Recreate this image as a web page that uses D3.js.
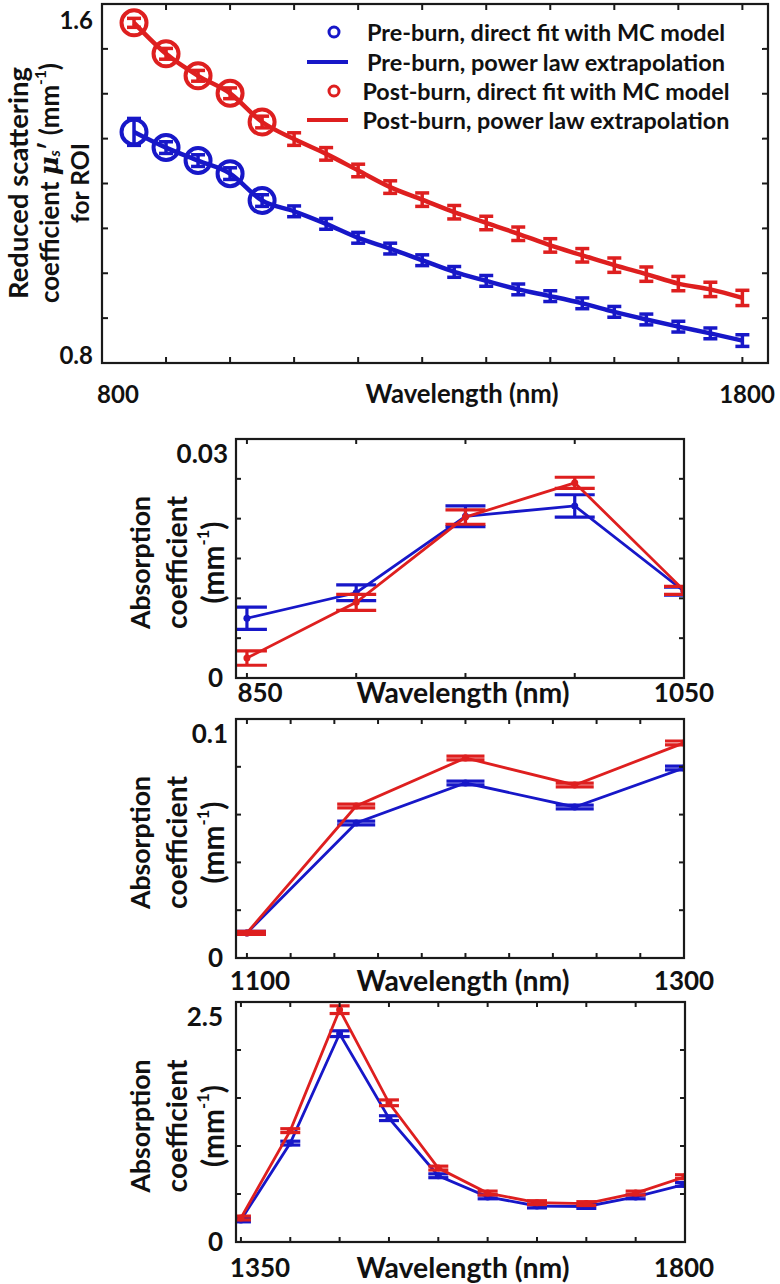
<!DOCTYPE html>
<html><head><meta charset="utf-8">
<script src="https://cdn.jsdelivr.net/npm/d3@7"></script>
<style>
html,body{margin:0;padding:0;background:#fff;}
text{font-family:Lato,"Open Sans",sans-serif;font-weight:bold;fill:#111;}
</style></head>
<body>
<svg id="chart" width="780" height="1284"></svg>
<script>
// ---------- DATA ----------
const scatterWavelengths = [850,900,950,1000,1050,1100,1150,1200,1250,1300,1350,1400,1450,1500,1550,1600,1650,1700,1750,1800];
const preScatter  = [1.315,1.280,1.251,1.222,1.162,1.138,1.110,1.079,1.055,1.029,1.003,0.983,0.964,0.949,0.933,0.914,0.897,0.881,0.866,0.850];
const preScatterErr = [0.030,0.013,0.013,0.013,0.013,0.012,0.012,0.012,0.012,0.012,0.012,0.012,0.012,0.012,0.012,0.012,0.012,0.012,0.012,0.013];
const postScatter = [1.558,1.489,1.440,1.401,1.337,1.299,1.266,1.229,1.192,1.164,1.136,1.112,1.088,1.062,1.040,1.018,0.998,0.977,0.964,0.945];
const postScatterErr = [0.010,0.012,0.012,0.012,0.013,0.014,0.014,0.014,0.014,0.015,0.015,0.015,0.015,0.015,0.015,0.016,0.016,0.016,0.016,0.017];
const mcFitCount = 5; // first five wavelengths were direct MC fits (circled)

const abs1Wavelengths = [850,900,950,1000,1050];
const abs1Pre  = [0.0075,0.0107,0.0203,0.0216,0.0109];
const abs1PreErr  = [0.0014,0.0010,0.0013,0.0014,0.0005];
const abs1Post = [0.0025,0.0095,0.0202,0.0245,0.0110];
const abs1PostErr = [0.0009,0.0010,0.0009,0.0007,0.0005];

const abs2Wavelengths = [1100,1150,1200,1250,1300];
const abs2Pre  = [0.0105,0.0565,0.0732,0.0632,0.0795];
const abs2PreErr  = [0.0006,0.0008,0.0008,0.0008,0.0008];
const abs2Post = [0.0105,0.0636,0.0837,0.0724,0.0900];
const abs2PostErr = [0.0006,0.0008,0.0008,0.0008,0.0008];

const abs3Wavelengths = [1350,1400,1450,1500,1550,1600,1650,1700,1750,1800];
const abs3Pre  = [0.23,1.03,2.17,1.29,0.69,0.47,0.375,0.37,0.47,0.60];
const abs3PreErr  = [0.02,0.02,0.03,0.025,0.02,0.02,0.02,0.02,0.02,0.02];
const abs3Post = [0.25,1.16,2.42,1.45,0.77,0.51,0.41,0.40,0.51,0.68];
const abs3PostErr = [0.02,0.02,0.04,0.03,0.02,0.02,0.02,0.02,0.02,0.02];

const legendLabels = ["Pre-burn, direct fit with MC model","Pre-burn, power law extrapolation","Post-burn, direct fit with MC model","Post-burn, power law extrapolation"];
const xTitle = "Wavelength (nm)";
const topXTickLabels = ["800","1800"];
const topYTickLabels = ["1.6","0.8"];
const abs1XTickLabels = ["850","1050"], abs1YTickLabels = ["0.03","0"];
const abs2XTickLabels = ["1100","1300"], abs2YTickLabels = ["0.1","0"];
const abs3XTickLabels = ["1350","1800"], abs3YTickLabels = ["2.5","0"];

// ---------- STYLE ----------
const BLUE = "#1717c8", RED = "#de1f1f", AXIS = "#1a1a1a";
const svg = d3.select("#chart");

function fitText(sel, target){
  const node = sel.node();
  let fs = parseFloat(sel.attr("font-size"));
  const w = node.getComputedTextLength();
  if (w > 0) sel.attr("font-size", (fs*target/w).toFixed(2));
  return sel;
}
function addText(g, str, x, y, size, target, anchor, rotate){
  const t = g.append("text").attr("x",x).attr("y",y).attr("font-size",size)
    .attr("text-anchor",anchor||"middle").attr("dominant-baseline","central").text(str);
  if (rotate) t.attr("transform",`rotate(-90,${x},${y})`);
  if (target) fitText(t,target);
  return t;
}

function drawBox(g, x, y, xTicks, yTicks, tickLen){
  const [x0,x1] = x.range(), [y0,y1] = y.range();
  const tg = g.append("g").attr("stroke",AXIS).attr("stroke-width",2);
  xTicks.forEach(v=>{
    const px = x(v);
    tg.append("line").attr("x1",px).attr("x2",px).attr("y1",y0).attr("y2",y0-tickLen);
    tg.append("line").attr("x1",px).attr("x2",px).attr("y1",y1).attr("y2",y1+tickLen);
  });
  yTicks.forEach(v=>{
    const py = y(v);
    tg.append("line").attr("x1",x0).attr("x2",x0+tickLen).attr("y1",py).attr("y2",py);
    tg.append("line").attr("x1",x1).attr("x2",x1-tickLen).attr("y1",py).attr("y2",py);
  });
  g.append("rect").attr("x",x0).attr("y",y1).attr("width",x1-x0).attr("height",y0-y1)
    .attr("fill","none").attr("stroke",AXIS).attr("stroke-width",2.2);
}

// ---------- TOP CHART ----------
(function(){
  const g = svg.append("g");
  const x = d3.scaleLinear().domain([800,1840]).range([102,768]);
  const y = d3.scaleLinear().domain([0.8,1.6]).range([363,4]);
  g.append("clipPath").attr("id","clipTop").append("rect")
    .attr("x",102).attr("y",4).attr("width",666).attr("height",359);
  const plot = g.append("g").attr("clip-path","url(#clipTop)");
  const series = [
    {vals:preScatter, err:preScatterErr, color:BLUE},
    {vals:postScatter, err:postScatterErr, color:RED}
  ];
  series.forEach(s=>{
    const pts = scatterWavelengths.map((w,i)=>({w, v:s.vals[i], e:s.err[i], i}));
    plot.append("path").datum(pts)
      .attr("d", d3.line().x(d=>x(d.w)).y(d=>y(d.v)).curve(d3.curveMonotoneX))
      .attr("fill","none").attr("stroke",s.color).attr("stroke-width",4.5);
    const eb = plot.append("g").attr("stroke",s.color).attr("stroke-width",3.5);
    pts.forEach(d=>{
      const cx = x(d.w), yt = y(d.v+d.e), yb = y(d.v-d.e);
      eb.append("line").attr("x1",cx).attr("x2",cx).attr("y1",yt).attr("y2",yb);
      eb.append("line").attr("x1",cx-7).attr("x2",cx+7).attr("y1",yt).attr("y2",yt);
      eb.append("line").attr("x1",cx-7).attr("x2",cx+7).attr("y1",yb).attr("y2",yb);
    });
    plot.selectAll(null).data(pts.filter(d=>d.i<mcFitCount)).enter().append("circle")
      .attr("cx",d=>x(d.w)).attr("cy",d=>y(d.v)).attr("r",12.5)
      .attr("fill","none").attr("stroke",s.color).attr("stroke-width",4);
  });
  drawBox(g, x, y, d3.range(900,1801,100), d3.range(0.9,1.55,0.1), 6);

  // tick labels
  addText(g, topYTickLabels[0], 93, 19, 24, null, "end");
  addText(g, topYTickLabels[1], 93, 354, 24, null, "end");
  addText(g, topXTickLabels[0], 118, 393, 24, null, "middle");
  addText(g, topXTickLabels[1], 747, 393, 24, null, "middle");
  addText(g, xTitle, 462, 393, 24, 193, "middle");

  // y title (three lines)
  addText(g, "Reduced scattering", 17, 183, 24, 232, "middle", true);
  const t2 = g.append("text").attr("x",49).attr("y",183).attr("font-size",24)
    .attr("text-anchor","middle").attr("dominant-baseline","central")
    .attr("transform","rotate(-90,49,183)");
  t2.append("tspan").text("coefficient ");
  t2.append("tspan").attr("font-style","italic").attr("font-family","'DejaVu Serif',serif").text("μ");
  t2.append("tspan").attr("font-style","italic").attr("font-size","0.6em").attr("baseline-shift","-30%").text("s");
  t2.append("tspan").text("′ (mm");
  t2.append("tspan").attr("font-size","0.6em").attr("baseline-shift","60%").text("-1");
  t2.append("tspan").text(")");
  fitText(t2, 240);
  addText(g, "for ROI", 79, 183, 24, 80, "middle", true);

  // legend
  const lg = g.append("g");
  const rows = [32,62,91,120];
  const widths = [358,358,367,367];
  const kinds = [["circle",BLUE],["line",BLUE],["circle",RED],["line",RED]];
  rows.forEach((ry,i)=>{
    const [k,c] = kinds[i];
    if (k==="circle") lg.append("circle").attr("cx",334).attr("cy",ry).attr("r",5)
      .attr("fill","none").attr("stroke",c).attr("stroke-width",3);
    else lg.append("line").attr("x1",307).attr("x2",348).attr("y1",ry).attr("y2",ry)
      .attr("stroke",c).attr("stroke-width",4);
    addText(lg, legendLabels[i], 546, ry, 20, widths[i], "middle");
  });
})();

// ---------- ABSORPTION PANELS ----------
function absPanel(cfg){
  const g = svg.append("g");
  const x = d3.scaleLinear().domain(cfg.xDomain).range([236, cfg.right]);
  const y = d3.scaleLinear().domain(cfg.yDomain).range([cfg.bottom, cfg.top]);
  const id = "clip"+cfg.id;
  g.append("clipPath").attr("id",id).append("rect")
    .attr("x",236).attr("y",cfg.top).attr("width",cfg.right-236).attr("height",cfg.bottom-cfg.top);
  const plot = g.append("g").attr("clip-path",`url(#${id})`);
  const series = [
    {vals:cfg.pre, err:cfg.preErr, color:BLUE},
    {vals:cfg.post, err:cfg.postErr, color:RED}
  ];
  series.forEach(s=>{
    const pts = cfg.wl.map((w,i)=>({w, v:s.vals[i], e:s.err[i]}));
    plot.append("path").datum(pts)
      .attr("d", d3.line().x(d=>x(d.w)).y(d=>y(d.v)))
      .attr("fill","none").attr("stroke",s.color).attr("stroke-width",2.8);
    const eb = plot.append("g").attr("stroke",s.color).attr("stroke-width",3.2);
    pts.forEach(d=>{
      const cx = x(d.w), yt = y(d.v+d.e), yb = y(d.v-d.e);
      eb.append("line").attr("x1",cx).attr("x2",cx).attr("y1",yt).attr("y2",yb);
      eb.append("line").attr("x1",cx-cfg.cap).attr("x2",cx+cfg.cap).attr("y1",yt).attr("y2",yt);
      eb.append("line").attr("x1",cx-cfg.cap).attr("x2",cx+cfg.cap).attr("y1",yb).attr("y2",yb);
    });
    plot.selectAll(null).data(pts).enter().append("circle")
      .attr("cx",d=>x(d.w)).attr("cy",d=>y(d.v)).attr("r",3.5).attr("fill",s.color);
  });
  drawBox(g, x, y, cfg.xTicks, cfg.yTicks, 5);
  const mid = (cfg.top+cfg.bottom)/2 + 4;
  addText(g, cfg.yLabels[0], cfg.yLabelX, cfg.top+14, 26, null, "end");
  addText(g, cfg.yLabels[1], 223, cfg.bottom-1, 26, null, "end");
  addText(g, cfg.xLabels[0], 260, cfg.labelY, 26, null, "middle");
  addText(g, cfg.xLabels[1], 684, cfg.labelY, 26, null, "middle");
  addText(g, xTitle, 463, cfg.labelY, 25, 213, "middle");
  addText(g, "Absorption", 140, mid, 25, 133, "middle", true);
  addText(g, "coefficient", 176, mid, 25, 133, "middle", true);
  const t = g.append("text").attr("x",212).attr("y",mid).attr("font-size",25)
    .attr("text-anchor","middle").attr("dominant-baseline","central")
    .attr("transform",`rotate(-90,212,${mid})`);
  t.append("tspan").text("(mm");
  t.append("tspan").attr("font-size","0.55em").attr("baseline-shift","60%").text("-1");
  t.append("tspan").text(")");
  fitText(t, 82);
}

absPanel({id:"a1", wl:abs1Wavelengths, pre:abs1Pre, preErr:abs1PreErr, post:abs1Post, postErr:abs1PostErr,
  xDomain:[845,1050], yDomain:[0,0.03], top:439, bottom:678, right:684, cap:20,
  xTicks:d3.range(850,1051,50), yTicks:d3.range(0.005,0.0299,0.005),
  xLabels:abs1XTickLabels, yLabels:abs1YTickLabels, yLabelX:228, labelY:692});
absPanel({id:"a2", wl:abs2Wavelengths, pre:abs2Pre, preErr:abs2PreErr, post:abs2Post, postErr:abs2PostErr,
  xDomain:[1095,1300], yDomain:[0,0.1], top:719, bottom:958, right:684, cap:19,
  xTicks:d3.range(1100,1301,20), yTicks:d3.range(0.02,0.099,0.02),
  xLabels:abs2XTickLabels, yLabels:abs2YTickLabels, yLabelX:228, labelY:980});
absPanel({id:"a3", wl:abs3Wavelengths, pre:abs3Pre, preErr:abs3PreErr, post:abs3Post, postErr:abs3PostErr,
  xDomain:[1345,1800], yDomain:[0,2.5], top:1002, bottom:1242, right:685, cap:10,
  xTicks:d3.range(1350,1801,50), yTicks:d3.range(0.5,2.49,0.5),
  xLabels:abs3XTickLabels, yLabels:abs3YTickLabels, yLabelX:223, labelY:1267});
</script>
</body></html>
